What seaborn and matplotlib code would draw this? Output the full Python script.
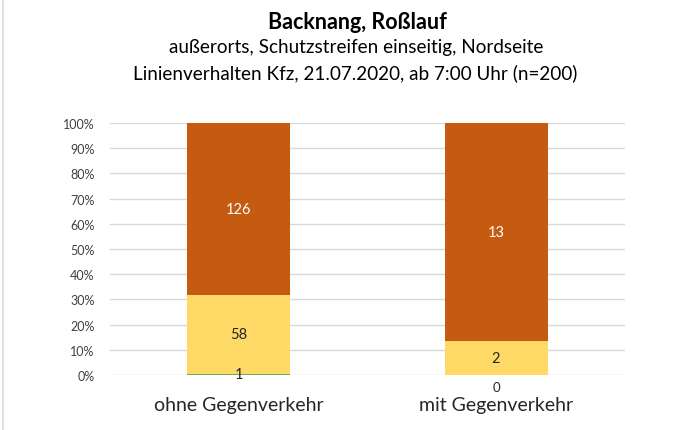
import matplotlib
matplotlib.use("Agg")
import matplotlib.pyplot as plt
from matplotlib.lines import Line2D
import seaborn as sns
import pandas as pd
import numpy as np

# Linienverhalten Kfz, Zählung Backnang Roßlauf
categories = ["ohne Gegenverkehr", "mit Gegenverkehr"]
segment_names = ["unten", "mitte", "oben"]
counts_bottom = [1, 0]
counts_middle = [58, 2]
counts_top = [126, 13]
yticks = [0, 10, 20, 30, 40, 50, 60, 70, 80, 90, 100]
ytick_labels = [f"{v}%" for v in yticks]

colors = {"unten": "#70AD47", "mitte": "#FFD966", "oben": "#C55A11"}
label_colors = {"unten": "#262626", "mitte": "#262626", "oben": "#FFFFFF"}

sns.set_theme(style="white")
plt.rcParams["font.family"] = ["Lato", "DejaVu Sans"]

counts = np.array([counts_bottom, counts_middle, counts_top], dtype=float)
totals = counts.sum(axis=0)
shares = counts / totals * 100
cum_top = np.cumsum(shares, axis=0)
cum_bottom = cum_top - shares

fig = plt.figure(figsize=(6.95, 4.31), dpi=100)
ax = fig.add_axes([0.158, 0.1276, 0.741, 0.5847])

# stacked bars: draw from the highest cumulative level down so each layer sits on the previous one
for i in reversed(range(len(segment_names))):
    df = pd.DataFrame({"Kategorie": categories, "Anteil": cum_top[i]})
    sns.barplot(data=df, x="Kategorie", y="Anteil", color=colors[segment_names[i]],
                width=0.4, saturation=1, ax=ax, linewidth=0, zorder=3)

# segment labels centred in each segment; empty segments get their label just below the axis
for i, name in enumerate(segment_names):
    for j in range(len(categories)):
        ymid = (cum_bottom[i, j] + cum_top[i, j]) / 2
        empty = counts[i, j] == 0
        ax.annotate(f"{int(counts[i, j])}", xy=(j, ymid), xytext=(0, -8.5 if empty else 0),
                    textcoords="offset points", ha="center", va="center",
                    fontsize=9.5 if empty else 10.5, color=label_colors[name], zorder=5,
                    annotation_clip=False)

ax.set_xlim(-0.5, 1.5)
ax.set_ylim(0, 100)
ax.set_yticks(yticks)
ax.set_yticklabels(ytick_labels, fontsize=9, color="#404040")
ax.yaxis.grid(True, color="#D9D9D9", linewidth=1, zorder=0)
ax.xaxis.grid(False)
ax.set_axisbelow(True)
for s in ax.spines.values():
    s.set_visible(False)
ax.tick_params(axis="y", length=0, pad=11)
ax.tick_params(axis="x", length=0, pad=15, labelsize=14, labelcolor="#262626")
ax.set_xlabel("")
ax.set_ylabel("")

fig.text(0.514, 0.947, "Backnang, Roßlauf", ha="center", va="center",
         fontsize=15.5, fontweight="bold", color="#000000")
fig.text(0.512, 0.889, "außerorts, Schutzstreifen einseitig, Nordseite", ha="center",
         va="center", fontsize=13.6, color="#000000")
fig.text(0.511, 0.831, "Linienverhalten Kfz, 21.07.2020, ab 7:00 Uhr (n=200)", ha="center",
         va="center", fontsize=13.6, color="#000000")

fig.add_artist(Line2D([0.005, 0.005], [0.0, 1.0], color="#D9D9D9", linewidth=1.2,
                      transform=fig.transFigure))

fig.savefig("out.png", dpi=100, facecolor="white")
